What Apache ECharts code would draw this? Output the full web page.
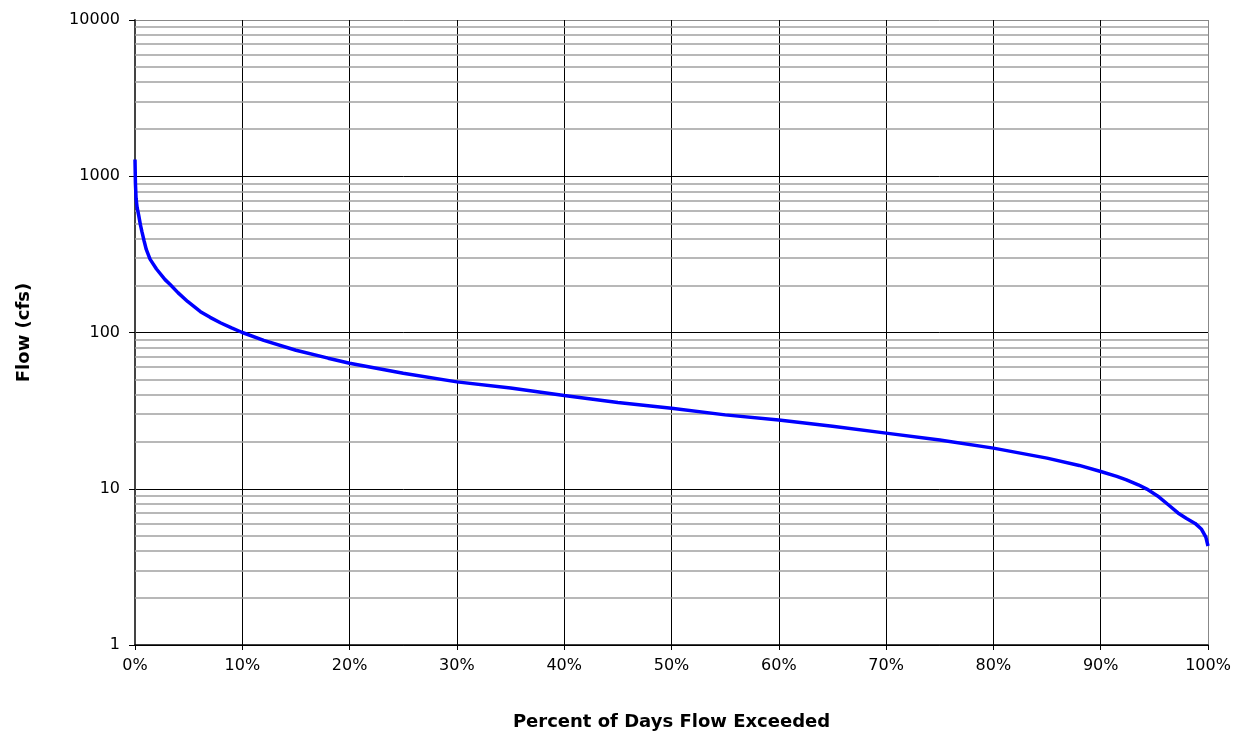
<!DOCTYPE html>
<html>
<head>
<meta charset="utf-8">
<script src="https://cdn.jsdelivr.net/npm/echarts@6/dist/echarts.min.js"></script>
<style>
html,body{margin:0;padding:0;background:#fff;}
#chart{width:1241px;height:736px;}
</style>
</head>
<body>
<div id="chart"></div>
<script>
// Percent of days flow exceeded (x) and flow in cfs (y)
const percentExceeded = [0, 0.04, 0.1, 0.2, 0.35, 0.5, 0.65, 0.85, 1.05, 1.4, 2.0, 2.8, 3.3, 4.0, 4.9, 6.1, 7.0, 8.0, 9.0, 10, 12, 15, 18, 20, 25, 30, 35, 40, 45, 50, 55, 60, 65, 70, 75, 80, 85, 88, 90, 91.5, 92.4, 93.5, 94.3, 95.3, 96.3, 97.2, 98, 98.8, 99.4, 99.8, 100];
const flowCfs = [1280, 900, 720, 630, 560, 490, 440, 385, 340, 295, 255, 218, 202, 180, 158, 136, 125, 115, 107, 100, 89, 77, 68.5, 63.5, 54.8, 48.3, 44.2, 39.5, 35.7, 32.8, 29.7, 27.5, 25.1, 22.7, 20.5, 18.2, 15.7, 14.1, 12.9, 12.0, 11.4, 10.6, 9.95, 9.0, 7.9, 7.0, 6.45, 6.0, 5.5, 4.9, 4.3];
// Minor log gridline values
const minorGridValues = [2,3,4,5,6,7,8,9,20,30,40,50,60,70,80,90,200,300,400,500,600,700,800,900,2000,3000,4000,5000,6000,7000,8000,9000];

const xTitle = 'Percent of Days Flow Exceeded';
const yTitle = 'Flow (cfs)';

const chart = echarts.init(document.getElementById('chart'));
const font = 'DejaVu Sans';
chart.setOption({
  animation: false,
  backgroundColor: '#fff',
  grid: { left: 135, right: 33, top: 20, bottom: 89, containLabel: false },
  xAxis: {
    type: 'value', min: 0, max: 100, interval: 10,
    name: xTitle, nameLocation: 'middle', nameGap: 68,
    nameTextStyle: { fontFamily: font, fontSize: 18, fontWeight: 'bold', color: '#000' },
    axisLine: { show: true, onZero: false, lineStyle: { color: '#000', width: 1.5 } },
    axisTick: { show: true, inside: false, length: 5, lineStyle: { color: '#000' } },
    axisLabel: { formatter: '{value}%', fontFamily: font, fontSize: 16, color: '#000', margin: 13 },
    splitLine: { show: true, lineStyle: { color: ['#000','#000','#000','#000','#000','#000','#000','#000','#000','#000','#888'], width: 1 } }
  },
  yAxis: {
    type: 'log', logBase: 10, min: 1, max: 10000,
    name: yTitle, nameLocation: 'middle', nameGap: 102, nameRotate: 90,
    nameTextStyle: { fontFamily: font, fontSize: 18, fontWeight: 'bold', color: '#000' },
    axisLine: { show: true, lineStyle: { color: '#444', width: 2 } },
    axisTick: { show: true, inside: false, length: 6, lineStyle: { color: '#000' } },
    axisLabel: { fontFamily: font, fontSize: 16, color: '#000', margin: 15, formatter: function (v) { return String(Math.round(v)); } },
    splitLine: { show: true, lineStyle: { color: ['#000','#000','#000','#000','#888'], width: 1 } }
  },
  series: [
    {
      type: 'line', data: [], z: 1, silent: true,
      markLine: {
        silent: true, symbol: 'none', animation: false,
        label: { show: false },
        lineStyle: { type: 'solid', color: '#a0a0a0', width: 1.5 },
        data: minorGridValues.map(v => ({ yAxis: v }))
      }
    },
    {
      type: 'line', z: 5,
      data: percentExceeded.map((p, i) => [p, flowCfs[i]]),
      showSymbol: false, symbol: 'none',
      lineStyle: { color: '#0000ff', width: 3.5 },
      smooth: false
    }
  ]
});
</script>
</body>
</html>
